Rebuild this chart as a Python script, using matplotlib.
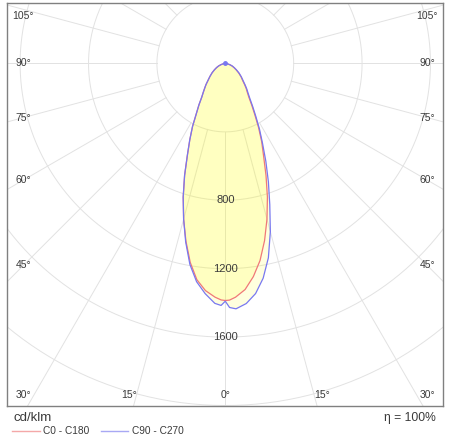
import numpy as np
import matplotlib
matplotlib.use('Agg')
import matplotlib.pyplot as plt
from matplotlib.lines import Line2D

plt.rcParams['font.family'] = ['Liberation Sans', 'DejaVu Sans']

# gamma angles (deg) and luminous intensity (cd/klm)
gamma = [0, 1, 2.5, 5, 7.5, 10, 12.5, 15, 17.5, 20, 22.5, 25, 27.5, 30, 32.5, 35, 37.5, 40, 42.5, 45,
         50, 55, 60, 65, 70, 75, 80, 85, 90]
c0 = [1386, 1384, 1368, 1327, 1257, 1170, 1061, 942, 819, 696, 585, 503, 421, 345, 287, 240, 211, 190, 167, 146,
      120, 95, 73, 56, 41, 26, 15, 6, 0]
c180 = [1386, 1383, 1368, 1333, 1275, 1181, 1064, 942, 819, 696, 579, 491, 415, 339, 287, 240, 211, 187, 167, 146,
        117, 94, 73, 56, 41, 26, 15, 6, 0]
c90 = [1390, 1427, 1436, 1409, 1357, 1275, 1164, 1018, 865, 737, 620, 515, 433, 357, 298, 251, 219, 196, 173, 152,
       123, 99, 76, 58, 44, 29, 15, 6, 0]
c270 = [1390, 1415, 1404, 1351, 1287, 1193, 1070, 942, 819, 696, 579, 491, 415, 339, 287, 240, 211, 187, 167, 146,
        117, 94, 73, 56, 41, 26, 15, 6, 0]

rings = [400, 800, 1200, 1600, 2000, 2400]
ring_labels = [800, 1200, 1600]
angle_labels = [0, 15, 30, 45, 60, 75, 90, 105]
eta = '100%'
unit = 'cd/klm'

RED = '#f07878'
BLUE = '#7878f0'
GRID = '#e2e2e2'
TXT = '#3a3a3a'


def curve(left, right):
    g = np.radians(gamma)
    gl = g[::-1]
    il = np.array(left)[::-1]
    ir = np.array(right)
    x = np.concatenate([-il * np.sin(gl), ir * np.sin(g)])
    y = np.concatenate([-il * np.cos(gl), -ir * np.cos(g)])
    return x, y


def label_pos(deg, side):
    g = np.radians(deg)
    dx, dn = np.sin(g), np.cos(g)
    t = []
    if abs(dx) > 1e-9:
        t.append(1181 / abs(dx))
    if dn > 1e-9:
        t.append(2105 / dn)
    t = min(t)
    down = min(max(t * dn, -275), 1936)
    return side * t * dx, -down


fig = plt.figure(figsize=(4.5, 4.38), dpi=100)
ax = fig.add_axes([7.3 / 450, 32.5 / 438, 436 / 450, 402.2 / 438])
ax.set_xlim(-1275, 1275)
ax.set_ylim(-2000, 352)
ax.set_xticks([])
ax.set_yticks([])
for sp in ax.spines.values():
    sp.set_color('#808080')
    sp.set_linewidth(1.0)

# grid rings and radial lines
th = np.linspace(0, 2 * np.pi, 400)
for r in rings:
    ax.plot(r * np.cos(th), r * np.sin(th), color=GRID, lw=0.7, zorder=1)
for a in range(0, 181, 15):
    g = np.radians(a)
    for s in (-1, 1):
        ax.plot([s * 400 * np.sin(g), s * 3000 * np.sin(g)],
                [-400 * np.cos(g), -3000 * np.cos(g)], color=GRID, lw=0.7, zorder=1)

# angle labels
for a in angle_labels:
    for s in ((-1, 1) if a else (1,)):
        x, y = label_pos(a, s)
        ax.text(x, y, '%d°' % a, ha='center', va='center', fontsize=7.5, color=TXT, zorder=5)

# intensity curves
xr, yr = curve(c180, c0)
xb, yb = curve(c270, c90)
ax.fill(xr, yr, color='#ffff00', alpha=0.13, lw=0, zorder=2)
ax.fill(xb, yb, color='#ffff00', alpha=0.13, lw=0, zorder=2)
ax.plot(xr, yr, color=RED, lw=0.9, zorder=3)
ax.plot(xb, yb, color=BLUE, lw=0.9, zorder=3, marker='o', markersize=2.5, markevery=[0])

for r in ring_labels:
    ax.text(0, -r, str(r), ha='center', va='center', fontsize=8, color=TXT, zorder=5)

# footer texts and legend
fig.text(13 / 450, 1 - 418 / 438, unit, fontsize=9.5, color=TXT, va='center', ha='left')
fig.text(436 / 450, 1 - 418 / 438, 'η = ' + eta, fontsize=8.7, color=TXT, va='center', ha='right')
ly = 1 - 431 / 438
fig.add_artist(Line2D([12 / 450, 40 / 450], [ly, ly], color='#f4a8a8', lw=1.0))
fig.text(43 / 450, ly, 'C0 - C180', fontsize=7.3, color=TXT, va='center', ha='left')
fig.add_artist(Line2D([101 / 450, 128 / 450], [ly, ly], color='#a8a8f4', lw=1.0))
fig.text(132 / 450, ly, 'C90 - C270', fontsize=7.3, color=TXT, va='center', ha='left')

fig.savefig('out.png', dpi=100)
